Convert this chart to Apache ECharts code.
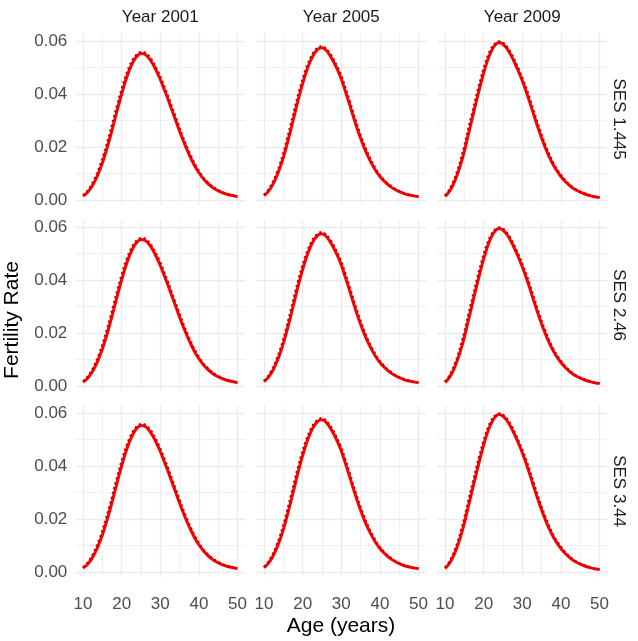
<!DOCTYPE html>
<html><head><meta charset="utf-8">
<script src="https://cdn.jsdelivr.net/npm/echarts@6/dist/echarts.min.js"></script>
<style>html,body{margin:0;padding:0;background:#fff}#c{width:638px;height:641px}</style>
</head><body><div id="c"></div>
<script>
// ---- data ----
const ages = [10,11,12,13,14,15,16,17,18,19,20,21,22,23,24,25,26,27,28,29,30,31,32,33,34,35,36,37,38,39,40,41,42,43,44,45,46,47,48,49,50];
const yearLabels = ['Year 2001','Year 2005','Year 2009'];
const sesLabels = ['SES 1.445','SES 2.46','SES 3.44'];
const xTickValues = [10,20,30,40,50];
const yTickValues = [0.00,0.02,0.04,0.06];
const fit2001 = [.0015,.0027,.0045,.0070,.0102,.0140,.0186,.0237,.0292,.0348,.0401,.0450,.0491,.0523,.0544,.0553,.0550,.0537,.0515,.0487,.0455,.0418,.0380,.0340,.0300,.0260,.0222,.0187,.0155,.0127,.0103,.0083,.0067,.0054,.0043,.0035,.0028,.0023,.0019,.0016,.0013];
const dot2001 = [.0018,.0034,.0054,.0082,.0117,.0158,.0206,.0259,.0315,.0370,.0422,.0468,.0506,.0534,.0551,.0559,.0557,.0545,.0525,.0498,.0468,.0432,.0394,.0354,.0314,.0274,.0235,.0199,.0166,.0136,.0111,.0089,.0072,.0058,.0047,.0038,.0030,.0025,.0020,.0017,.0014];
const fit2005 = [.0017,.0031,.0052,.0081,.0117,.0161,.0213,.0270,.0329,.0387,.0440,.0487,.0525,.0553,.0570,.0575,.0566,.0547,.0522,.0492,.0457,.0413,.0368,.0320,.0275,.0233,.0195,.0162,.0134,.0109,.0089,.0073,.0059,.0048,.0039,.0032,.0026,.0021,.0018,.0015,.0013];
const dot2005 = [.0020,.0038,.0062,.0094,.0133,.0180,.0235,.0293,.0353,.0409,.0460,.0504,.0538,.0562,.0576,.0581,.0573,.0556,.0532,.0503,.0471,.0428,.0384,.0336,.0290,.0247,.0208,.0173,.0143,.0117,.0095,.0078,.0064,.0052,.0042,.0034,.0028,.0022,.0019,.0016,.0014];
const fit2009 = [.0014,.0030,.0055,.0090,.0133,.0185,.0246,.0306,.0367,.0425,.0480,.0527,.0563,.0586,.0594,.0588,.0572,.0548,.0519,.0486,.0450,.0410,.0366,.0320,.0276,.0234,.0196,.0162,.0133,.0109,.0089,.0072,.0058,.0046,.0037,.0030,.0024,.0019,.0015,.0012,.0010];
const dot2009 = [.0017,.0038,.0066,.0105,.0152,.0207,.0270,.0330,.0391,.0447,.0500,.0543,.0574,.0592,.0599,.0594,.0580,.0558,.0530,.0498,.0463,.0425,.0382,.0336,.0291,.0248,.0209,.0173,.0142,.0117,.0096,.0078,.0062,.0050,.0040,.0032,.0026,.0020,.0016,.0013,.0011];
// rows (SES) share the same curves per year
const fitByYear = [fit2001, fit2005, fit2009];
const dotByYear = [dot2001, dot2005, dot2009];

// ---- layout ----
const FONT = 'Liberation Sans, Arial, sans-serif';
const P = {left0: 75.3, dx: 181, w: 170, top0: 33.6, dy: 186, h: 171};
const grids = [], xAxes = [], yAxes = [], series = [], graphics = [];
let k = 0;
for (let r = 0; r < 3; r++) {
  for (let c = 0; c < 3; c++) {
    const left = P.left0 + c * P.dx, top = P.top0 + r * P.dy;
    grids.push({left: left, top: top, width: P.w, height: P.h, containLabel: false});
    xAxes.push({
      type: 'value', gridIndex: k, min: 8, max: 52, splitNumber: 4,
      axisLine: {show: false}, axisTick: {show: false},
      axisLabel: {show: r === 2, showMinLabel: false, showMaxLabel: false, color: '#4d4d4d', fontSize: 17, fontFamily: FONT, margin: 19,
        formatter: v => xTickValues.indexOf(v) >= 0 ? String(v) : ''},
      splitLine: {show: true, showMinLine: false, showMaxLine: false, lineStyle: {color: '#ebebeb', width: 1.3}},
      minorTick: {show: false, splitNumber: 2},
      minorSplitLine: {show: true, lineStyle: {color: '#f0f0f0', width: 1}}
    });
    yAxes.push({
      type: 'value', gridIndex: k, min: -0.0017, max: 0.0628, splitNumber: 3,
      axisLine: {show: false}, axisTick: {show: false},
      axisLabel: {show: c === 0, showMinLabel: false, showMaxLabel: false, color: '#4d4d4d', fontSize: 17, fontFamily: FONT, margin: 8,
        formatter: v => yTickValues.some(t => Math.abs(t - v) < 1e-9) ? v.toFixed(2) : ''},
      splitLine: {show: true, showMinLine: false, showMaxLine: false, lineStyle: {color: '#ebebeb', width: 1.3}},
      minorTick: {show: false, splitNumber: 2},
      minorSplitLine: {show: true, lineStyle: {color: '#f0f0f0', width: 1}}
    });
    series.push({
      type: 'line', xAxisIndex: k, yAxisIndex: k, showSymbol: false, smooth: 0.35, silent: true,
      data: ages.map((a, i) => [a, fitByYear[c][i]]),
      lineStyle: {color: '#ff0000', width: 3}, z: 2
    });
    series.push({
      type: 'line', xAxisIndex: k, yAxisIndex: k, showSymbol: false, smooth: 0.35, silent: true,
      data: ages.map((a, i) => [a, dotByYear[c][i]]),
      lineStyle: {color: '#c00000', width: 2, type: [2, 3], cap: 'butt'}, z: 3
    });
    if (r === 0) {
      graphics.push({type: 'text', x: left + P.w / 2, y: 17,
        style: {text: yearLabels[c], font: '17px ' + FONT, fill: '#1a1a1a', textAlign: 'center', textVerticalAlign: 'middle'}});
    }
    if (c === 2) {
      graphics.push({type: 'text', x: 619, y: top + P.h / 2, rotation: -Math.PI / 2,
        style: {text: sesLabels[r], font: '17px ' + FONT, fill: '#1a1a1a', textAlign: 'center', textVerticalAlign: 'middle'}});
    }
    k++;
  }
}
graphics.push({type: 'text', x: 12, y: 320, rotation: Math.PI / 2,
  style: {text: 'Fertility Rate', font: '21px ' + FONT, fill: '#000', textAlign: 'center', textVerticalAlign: 'middle'}});
graphics.push({type: 'text', x: 341, y: 626,
  style: {text: 'Age (years)', font: '21px ' + FONT, fill: '#000', textAlign: 'center', textVerticalAlign: 'middle'}});

const chart = echarts.init(document.getElementById('c'), null, {renderer: 'canvas'});
chart.setOption({
  animation: false, backgroundColor: '#fff',
  grid: grids, xAxis: xAxes, yAxis: yAxes, series: series, graphic: graphics
});
</script></body></html>
